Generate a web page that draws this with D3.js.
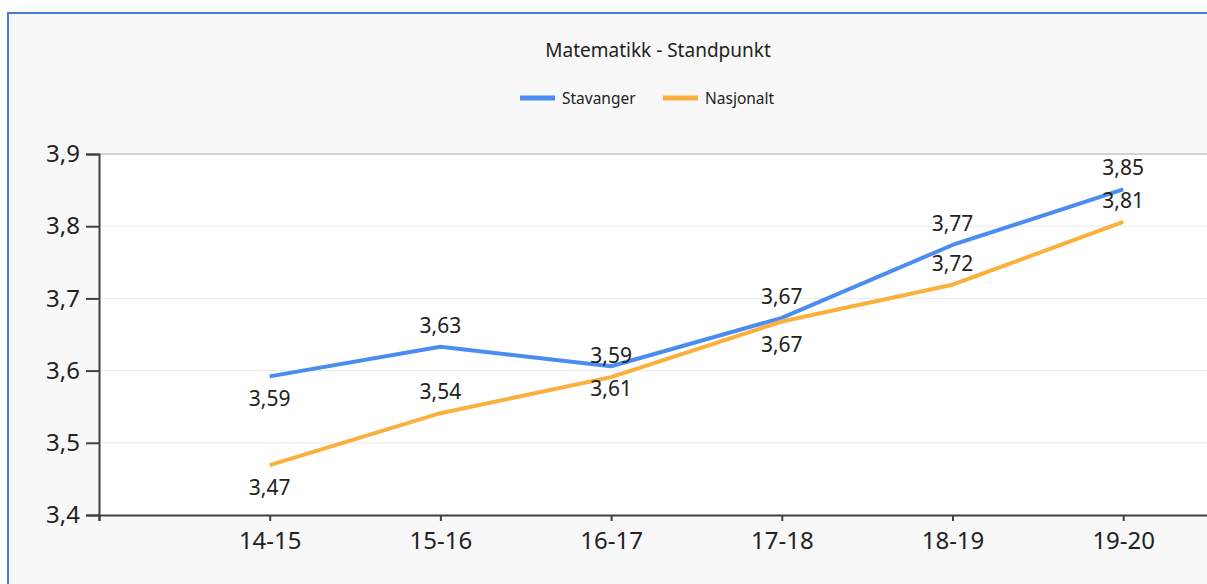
<!DOCTYPE html>
<html>
<head>
<meta charset="utf-8">
<script src="https://cdn.jsdelivr.net/npm/d3@7"></script>
<style>
  html, body { margin: 0; padding: 0; background: #fff; overflow: hidden; }
  svg { display: block; font-family: "Noto Sans", "Open Sans", sans-serif; }
</style>
</head>
<body>
<div id="chart"></div>
<script>
// data
const categories = ['14-15', '15-16', '16-17', '17-18', '18-19', '19-20'];
const stavanger = [3.592, 3.633, 3.606, 3.673, 3.774, 3.851];
const nasjonalt = [3.469, 3.541, 3.591, 3.668, 3.719, 3.806];
const yTicks = [3.4, 3.5, 3.6, 3.7, 3.8, 3.9];
const chartTitle = 'Matematikk - Standpunkt';

// which side of the line each value label sits on (+1 below, -1 above)
const stavangerLabelSide = [1, -1, 1, -1, -1, -1];
const nasjonaltLabelSide = [1, -1, -1, 1, -1, -1];

const series = [
    { name: 'Stavanger', values: stavanger, side: stavangerLabelSide, color: '#4a8cf0' },
    { name: 'Nasjonalt', values: nasjonalt, side: nasjonaltLabelSide, color: '#fbb03c' }
];

const width = 1207, height = 584;
const margin = { top: 154, left: 99, bottom: 69 };
const fmt = v => d3.format('.2f')(v).replace('.', ',');

const svg = d3.select('#chart').append('svg')
    .attr('width', width)
    .attr('height', height);

// outer frame
svg.append('rect')
    .attr('x', 8).attr('y', 13)
    .attr('width', width + 20).attr('height', height)
    .attr('fill', '#f8f8f8')
    .attr('stroke', '#4a7bd0')
    .attr('stroke-width', 2);

const plotH = height - margin.top - margin.bottom;

const x = d3.scaleLinear()
    .domain([0, categories.length + 1])
    .range([margin.left, margin.left + 170.7 * (categories.length + 1)]);

const y = d3.scaleLinear()
    .domain([3.4, 3.9])
    .range([margin.top + plotH, margin.top]);

// plot area
svg.append('rect')
    .attr('x', margin.left).attr('y', margin.top)
    .attr('width', width - margin.left).attr('height', plotH)
    .attr('fill', '#fff');

svg.append('line')
    .attr('x1', margin.left).attr('x2', width)
    .attr('y1', margin.top).attr('y2', margin.top)
    .attr('stroke', '#d2d2d2').attr('stroke-width', 2);

// gridlines
svg.append('g')
    .selectAll('line')
    .data(yTicks.slice(1, -1))
    .join('line')
    .attr('x1', margin.left).attr('x2', width)
    .attr('y1', d => y(d)).attr('y2', d => y(d))
    .attr('stroke', '#ebebeb').attr('stroke-width', 1);

// axes
const yAxis = d3.axisLeft(y)
    .tickValues(yTicks)
    .tickSize(13)
    .tickPadding(6)
    .tickFormat(d => d3.format('.1f')(d).replace('.', ','));

svg.append('g')
    .attr('class', 'y axis')
    .attr('transform', `translate(${margin.left},0)`)
    .call(yAxis)
    .call(g => g.select('.domain').attr('stroke', '#404040').attr('stroke-width', 2))
    .call(g => g.selectAll('.tick line').attr('stroke', '#404040').attr('stroke-width', 2))
    .call(g => g.selectAll('.tick text')
        .attr('font-size', 24).attr('fill', '#222').attr('font-family', '"Noto Sans", sans-serif'));

const xAxis = d3.axisBottom(x)
    .tickValues(d3.range(0, categories.length + 1))
    .tickSize(6)
    .tickPadding(11)
    .tickFormat(i => i === 0 ? '' : categories[i - 1]);

svg.append('g')
    .attr('class', 'x axis')
    .attr('transform', `translate(0,${margin.top + plotH})`)
    .call(xAxis)
    .call(g => g.select('.domain').attr('stroke', '#404040').attr('stroke-width', 2))
    .call(g => g.selectAll('.tick line').attr('stroke', '#404040').attr('stroke-width', 2))
    .call(g => g.selectAll('.tick text')
        .attr('font-size', 24).attr('fill', '#222').attr('font-family', '"Noto Sans", sans-serif'));

// lines
const line = d3.line()
    .x((d, i) => x(i + 1))
    .y(d => y(d));

svg.append('g')
    .selectAll('path')
    .data(series)
    .join('path')
    .attr('fill', 'none')
    .attr('stroke', d => d.color)
    .attr('stroke-width', 4)
    .attr('stroke-linejoin', 'round')
    .attr('d', d => line(d.values));

// value labels
series.forEach(s => {
    svg.append('g')
        .selectAll('text')
        .data(s.values)
        .join('text')
        .attr('x', (d, i) => x(i + 1))
        .attr('y', (d, i) => y(d) + s.side[i] * 22)
        .attr('text-anchor', 'middle')
        .attr('dominant-baseline', 'central')
        .attr('font-size', 21)
        .attr('fill', '#222')
        .text(d => fmt(d));
});

// title
svg.append('text')
    .attr('x', 658).attr('y', 50)
    .attr('text-anchor', 'middle')
    .attr('dominant-baseline', 'central')
    .attr('font-size', 19)
    .attr('fill', '#222')
    .text(chartTitle);

// legend
const legendX = [520, 663];
const legend = svg.append('g')
    .selectAll('g')
    .data(series)
    .join('g')
    .attr('transform', (d, i) => `translate(${legendX[i]},98)`);

legend.append('line')
    .attr('x1', 0).attr('x2', 35)
    .attr('stroke', d => d.color)
    .attr('stroke-width', 5);

legend.append('text')
    .attr('x', 42)
    .attr('dominant-baseline', 'central')
    .attr('font-size', 15.5)
    .attr('fill', '#222')
    .text(d => d.name);
</script>
</body>
</html>
